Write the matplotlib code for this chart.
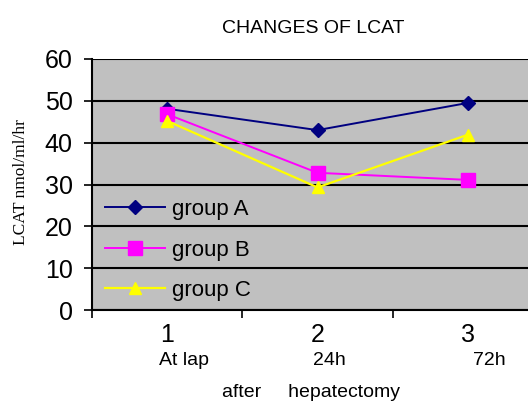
import matplotlib
matplotlib.use("Agg")
import matplotlib.pyplot as plt

# data
x = [1, 2, 3]
group_a = [48.1, 43.0, 49.5]
group_b = [46.8, 32.8, 31.1]
group_c = [45.2, 29.3, 41.9]
xticklabels = ["1", "2", "3"]
sublabels = ["At lap", "24h", "72h"]
yticks = [0, 10, 20, 30, 40, 50, 60]

plt.rcParams["font.family"] = ["Liberation Sans", "DejaVu Sans"]

fig = plt.figure(figsize=(5.28, 4.04), dpi=100)
ax = fig.add_axes([92 / 528, 94 / 404, 451 / 528, 251 / 404])
ax.set_facecolor("#c0c0c0")

ax.plot(x, group_a, color="#000080", lw=1.4, marker="D", ms=7, label="group A")
ax.plot(x, group_b, color="#ff00ff", lw=1.4, marker="s", ms=10, label="group B")
ax.plot(x, group_c, color="#ffff00", lw=1.6, marker="^", ms=9, label="group C")

ax.set_xlim(0.5, 3.5)
ax.set_ylim(0, 60)
ax.set_yticks(yticks)
ax.set_xticks(x)
ax.set_xticklabels(xticklabels)
ax.set_xticks([0.5, 1.5, 2.5, 3.5], minor=True)
ax.tick_params(axis="y", labelsize=18, length=6, width=1.2, pad=8)
ax.tick_params(axis="x", which="major", labelsize=18, length=0, pad=9)
ax.tick_params(axis="x", which="minor", length=6, width=1.2)
ax.yaxis.grid(True, color="black", lw=1.5)
ax.set_axisbelow(True)
for s in ["top", "right"]:
    ax.spines[s].set_visible(False)
for s in ["left", "bottom"]:
    ax.spines[s].set_linewidth(1.5)

trans = ax.get_xaxis_transform()
offsets = [0.11, 0.08, 0.14]
for xi, lab, off in zip(x, sublabels, offsets):
    ax.text(xi + off, -0.2, lab, transform=trans, ha="center", va="center", fontsize=14)
ax.text(0.5 + (311 - 92) / 150.3, -0.33, "after     hepatectomy", transform=trans,
        ha="center", va="center", fontsize=14)

ax.set_title("CHANGES OF LCAT", fontsize=14, pad=19, x=0.49)
fig.text(21 / 528, (404 - 182) / 404, "LCAT nmol/ml/hr", rotation=90,
         ha="center", va="center", fontsize=12.5, family="Liberation Serif")

ax.legend(loc="lower left", bbox_to_anchor=(0.028, 0.035), frameon=False,
          fontsize=16, numpoints=1, handlelength=2.7, handletextpad=0.35,
          labelspacing=0.88, borderpad=0, borderaxespad=0)

fig.savefig("out.png", dpi=100)
